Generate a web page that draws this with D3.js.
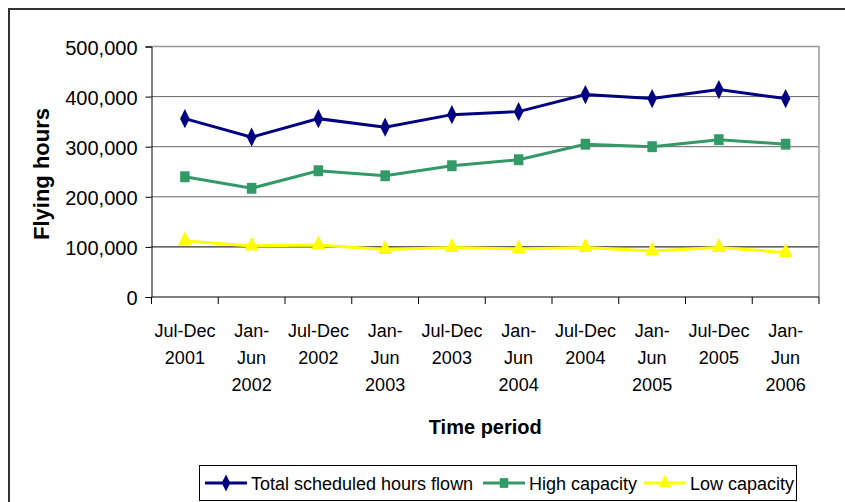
<!DOCTYPE html>
<html>
<head>
<meta charset="utf-8">
<script src="https://cdn.jsdelivr.net/npm/d3@7"></script>
<style>
  body { margin: 0; background: #fff; }
  svg text { font-family: "Liberation Sans", Arial, sans-serif; fill: #000; }
</style>
</head>
<body>
<div id="chart"></div>
<script>
const categories = [
  ["Jul-Dec", "2001"], ["Jan-", "Jun", "2002"], ["Jul-Dec", "2002"], ["Jan-", "Jun", "2003"],
  ["Jul-Dec", "2003"], ["Jan-", "Jun", "2004"], ["Jul-Dec", "2004"], ["Jan-", "Jun", "2005"],
  ["Jul-Dec", "2005"], ["Jan-", "Jun", "2006"]
];
const totalHours = [356000, 319000, 356000, 339000, 364000, 370000, 404000, 396000, 414000, 396000];
const highCapacity = [240000, 217000, 252000, 242000, 262000, 274000, 305000, 300000, 314000, 305000];
const lowCapacity = [112000, 102000, 104000, 95000, 99000, 96000, 99000, 92000, 99000, 89000];
const yTicks = [0, 100000, 200000, 300000, 400000, 500000];
const seriesNames = ["Total scheduled hours flown", "High capacity", "Low capacity"];

const width = 845, height = 502;
const plot = { left: 151.5, right: 819, top: 46.5, bottom: 297 };

const svg = d3.select("#chart").append("svg")
  .attr("width", width).attr("height", height);

// outer frame (right and bottom edges are cut off in the picture)
svg.append("rect")
  .attr("x", 9).attr("y", 9).attr("width", 900).attr("height", 600)
  .attr("fill", "none").attr("stroke", "#333").attr("stroke-width", 2);

const keys = categories.map((d, i) => i);
const x = d3.scaleBand().domain(keys).range([plot.left, plot.right]);
const y = d3.scaleLinear().domain([0, 500000]).range([plot.bottom, plot.top]);

// gridlines
svg.append("g").selectAll("line")
  .data(yTicks.filter(d => d > 0 && d < 500000))
  .join("line")
  .attr("x1", plot.left).attr("x2", plot.right)
  .attr("y1", d => y(d)).attr("y2", d => y(d))
  .attr("stroke", d => d === 100000 ? "#000" : "#666")
  .attr("stroke-width", 1);

// plot area border (top + right)
svg.append("path")
  .attr("d", `M${plot.left},${y(500000)}H${plot.right}V${plot.bottom}`)
  .attr("fill", "none").attr("stroke", "#999").attr("stroke-width", 1.5);

// y axis
const yAxis = svg.append("g")
  .attr("transform", `translate(${plot.left},0)`)
  .call(d3.axisLeft(y).tickValues(yTicks).tickFormat(d3.format(",")).tickSize(6).tickPadding(8));
yAxis.select(".domain").attr("stroke", "#000");
yAxis.selectAll("text").style("font-size", "20px").attr("fill", "#000").attr("dy", "0.38em");

// x axis
const xg = svg.append("g");
xg.append("line")
  .attr("x1", plot.left).attr("x2", plot.right)
  .attr("y1", plot.bottom).attr("y2", plot.bottom)
  .attr("stroke", "#000");
xg.selectAll(".tick")
  .data(keys.map(k => x(k)).concat([plot.right]))
  .join("line")
  .attr("x1", d => d).attr("x2", d => d)
  .attr("y1", plot.bottom).attr("y2", plot.bottom + 7)
  .attr("stroke", "#000");
const labels = xg.selectAll(".xl")
  .data(categories)
  .join("text")
  .attr("text-anchor", "middle")
  .style("font-size", "18px")
  .attr("transform", (d, i) => `translate(${x(i) + x.bandwidth() / 2},337)`);
labels.selectAll("tspan")
  .data(d => d)
  .join("tspan")
  .attr("x", 0)
  .attr("y", (d, j) => j * 27)
  .text(d => d);

// axis titles
svg.append("text")
  .attr("x", (plot.left + plot.right) / 2).attr("y", 434)
  .attr("text-anchor", "middle")
  .style("font-size", "20px").style("font-weight", "bold")
  .text("Time period");
svg.append("text")
  .attr("transform", "translate(49,174) rotate(-90)")
  .attr("text-anchor", "middle")
  .style("font-size", "22px").style("font-weight", "bold")
  .text("Flying hours");

// series
const series = [
  { name: seriesNames[0], values: totalHours, color: "#000080", symbol: d3.symbolDiamond, size: 80, sx: 1 },
  { name: seriesNames[1], values: highCapacity, color: "#339966", symbol: d3.symbolSquare, size: 90, sx: 1 },
  { name: seriesNames[2], values: lowCapacity, color: "#FFFF00", symbol: d3.symbolTriangle, size: 85, sx: 1 }
];
const line = d3.line()
  .x((d, i) => x(i) + x.bandwidth() / 2)
  .y(d => y(d));

series.forEach(s => {
  svg.append("path")
    .datum(s.values)
    .attr("d", line)
    .attr("fill", "none")
    .attr("stroke", s.color)
    .attr("stroke-width", 3);
  svg.append("g").selectAll("path")
    .data(s.values)
    .join("path")
    .attr("d", d3.symbol().type(s.symbol).size(s.size))
    .attr("transform", (d, i) => `translate(${x(i) + x.bandwidth() / 2},${y(d)}) scale(${s.sx},1.15)`)
    .attr("fill", s.color);
});

// legend
const legend = svg.append("g");
legend.append("rect")
  .attr("x", 199.5).attr("y", 465.5).attr("width", 597).attr("height", 35)
  .attr("fill", "#fff").attr("stroke", "#000").attr("stroke-width", 1);
const legendX = [205, 483, 644];
series.forEach((s, i) => {
  const lx = legendX[i];
  legend.append("line")
    .attr("x1", lx).attr("x2", lx + 42)
    .attr("y1", 483).attr("y2", 483)
    .attr("stroke", s.color).attr("stroke-width", 3);
  legend.append("path")
    .attr("d", d3.symbol().type(s.symbol).size(s.size * 0.8))
    .attr("transform", `translate(${lx + 21},483) scale(${s.sx},1.15)`)
    .attr("fill", s.color);
  legend.append("text")
    .attr("x", lx + 46).attr("y", 490)
    .style("font-size", "18px")
    .text(s.name);
});
</script>
</body>
</html>
